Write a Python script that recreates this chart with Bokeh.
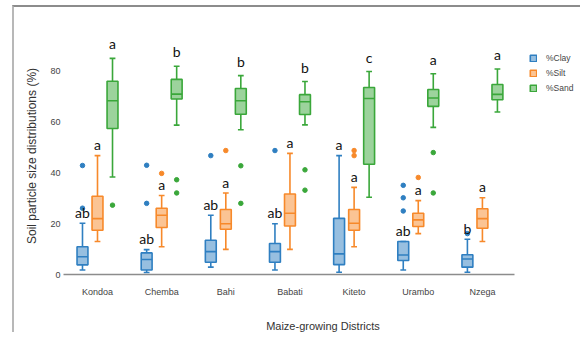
from bokeh.plotting import figure
from bokeh.models import ColumnDataSource, Range1d, FixedTicker, Legend, LegendItem
from bokeh.embed import file_html
from bokeh.resources import INLINE
from bokeh.core.properties import value

districts = ["Kondoa", "Chemba", "Bahi", "Babati", "Kiteto", "Urambo", "Nzega"]
y_ticks = [0, 20, 40, 60, 80]

# %Clay box statistics
clay_lo = [1.8, 0.8, 2.9, 1.8, 0.9, 1.8, 0.9]
clay_q1 = [3.8, 1.8, 4.8, 4.8, 3.9, 5.5, 2.9]
clay_med = [7.0, 5.9, 9.0, 9.0, 8.1, 7.7, 6.1]
clay_q3 = [10.9, 8.5, 13.5, 12.2, 22.1, 13.0, 7.8]
clay_hi = [20.2, 9.8, 23.3, 20.0, 46.8, 13.0, 13.9]
clay_out_district = ["Kondoa", "Kondoa", "Chemba", "Chemba", "Bahi", "Babati", "Urambo", "Urambo", "Urambo", "Nzega"]
clay_out_value = [26.1, 42.9, 28.0, 43.0, 46.8, 48.8, 35.1, 30.2, 25.0, 16.1]
clay_letters = ["ab", "ab", "ab", "ab", "a", "ab", "b"]

# %Silt box statistics
silt_lo = [13.0, 10.9, 9.9, 9.9, 10.9, 16.1, 13.0]
silt_q1 = [17.4, 18.5, 17.8, 19.1, 17.4, 18.9, 18.2]
silt_med = [22.0, 23.3, 20.0, 24.1, 20.2, 21.5, 22.0]
silt_q3 = [30.8, 26.1, 25.6, 31.7, 25.6, 24.1, 25.9]
silt_hi = [46.8, 31.1, 32.1, 47.7, 34.3, 29.1, 30.2]
silt_out_district = ["Chemba", "Bahi", "Kiteto", "Kiteto", "Urambo"]
silt_out_value = [39.8, 48.8, 48.8, 46.8, 38.2]
silt_letters = ["a", "a", "a", "a", "a", "a", "a"]

# %Sand box statistics
sand_lo = [38.4, 58.8, 57.0, 58.9, 30.4, 57.9, 64.0]
sand_q1 = [57.5, 69.1, 63.1, 63.0, 43.4, 66.2, 68.8]
sand_med = [68.4, 71.0, 68.4, 68.0, 69.3, 69.5, 70.9]
sand_q3 = [76.1, 76.8, 73.2, 70.8, 73.6, 72.8, 74.8]
sand_hi = [85.1, 82.0, 78.3, 76.0, 79.9, 79.0, 80.9]
sand_out_district = ["Kondoa", "Chemba", "Chemba", "Bahi", "Bahi", "Babati", "Babati", "Urambo", "Urambo"]
sand_out_value = [27.3, 37.3, 32.1, 42.8, 28.0, 41.2, 33.2, 48.0, 32.1]
sand_letters = ["a", "b", "b", "b", "c", "a", "a"]

series = [
    ("%Clay", -0.234, "#2f7fc1", clay_lo, clay_q1, clay_med, clay_q3, clay_hi,
     clay_out_district, clay_out_value, clay_letters, 11),
    ("%Silt", 0.0, "#f7892a", silt_lo, silt_q1, silt_med, silt_q3, silt_hi,
     silt_out_district, silt_out_value, silt_letters, 11),
    ("%Sand", 0.234, "#3aa73a", sand_lo, sand_q1, sand_med, sand_q3, sand_hi,
     sand_out_district, sand_out_value, sand_letters, 14.5),
]

BOX_W = 0.17
CAP_W = 0.09
W, H = 568, 327
TOP, BOTTOM, LEFT = 30, 58, 49
Y_END = 93.3
PX_PER_UNIT = (H - TOP - BOTTOM) / Y_END

p = figure(width=W, height=H, output_backend="svg", toolbar_location=None,
           x_range=Range1d(-0.53, 7.56), y_range=Range1d(0, Y_END),
           min_border_left=LEFT, min_border_right=0, min_border_top=TOP, min_border_bottom=BOTTOM,
           styles={"margin-left": "12px", "margin-top": "5px",
                   "border-top": "2px solid #8c8c8c", "border-left": "2px solid #b8b8b8"})
p.xgrid.visible = False
p.ygrid.visible = False
p.outline_line_color = None
p.background_fill_color = "white"

legend_items = []
for name, off, color, lo, q1, med, q3, hi, od, ov, letters, gap in series:
    xs = [i + off for i in range(len(districts))]
    src = ColumnDataSource(dict(
        x=xs, xl=[x - BOX_W / 2 for x in xs], xr=[x + BOX_W / 2 for x in xs],
        cl=[x - CAP_W / 2 for x in xs], cr=[x + CAP_W / 2 for x in xs],
        lo=lo, q1=q1, med=med, q3=q3, hi=hi,
        ly=[h + gap / PX_PER_UNIT for h in hi], lab=letters))
    p.segment(x0="x", y0="hi", x1="x", y1="q3", source=src, line_color=color, line_width=1.6)
    p.segment(x0="x", y0="lo", x1="x", y1="q1", source=src, line_color=color, line_width=1.6)
    p.segment(x0="cl", y0="hi", x1="cr", y1="hi", source=src, line_color=color, line_width=1.6)
    p.segment(x0="cl", y0="lo", x1="cr", y1="lo", source=src, line_color=color, line_width=1.6)
    r = p.vbar(x="x", width=BOX_W, top="q3", bottom="q1", source=src,
               fill_color=color, fill_alpha=0.5, line_color=color, line_width=1.6)
    p.segment(x0="xl", y0="med", x1="xr", y1="med", source=src, line_color=color, line_width=1.6)
    osrc = ColumnDataSource(dict(x=[districts.index(d) + off for d in od], y=ov))
    p.scatter(x="x", y="y", source=osrc, size=4.5, fill_color=color, line_color=color)
    p.text(x="x", y="ly", text="lab", source=src, text_align="center", text_baseline="alphabetic",
           text_font=value("Lato"), text_font_size="14px", text_color="#111111")
    legend_items.append(LegendItem(label=name, renderers=[r]))

legend = Legend(items=legend_items, location=(466, 181), glyph_width=8, glyph_height=8,
                label_standoff=9, label_height=9, spacing=5, padding=0, margin=0,
                label_text_font="Liberation Sans", label_text_font_size="8.5px",
                label_text_color="#444444", border_line_color=None, background_fill_alpha=0)
p.add_layout(legend)

xa = p.xaxis[0]
xa.ticker = FixedTicker(ticks=list(range(len(districts))))
xa.major_label_overrides = {i: d for i, d in enumerate(districts)}
xa.bounds = (-0.53, len(districts) - 0.5)
xa.axis_line_color = "#8c8c8c"
xa.axis_line_width = 1.5
xa.major_tick_line_color = None
xa.minor_tick_line_color = None
xa.major_tick_out = 0
xa.major_tick_in = 0
xa.major_label_standoff = 12
xa.major_label_text_font = "Liberation Sans"
xa.major_label_text_font_size = "9px"
xa.major_label_text_color = "#444444"
xa.axis_label = "Maize-growing Districts"
xa.axis_label_text_font = "Liberation Sans"
xa.axis_label_text_font_size = "11px"
xa.axis_label_text_font_style = "normal"
xa.axis_label_text_color = "#333333"
xa.axis_label_standoff = 20

ya = p.yaxis[0]
ya.ticker = FixedTicker(ticks=y_ticks)
ya.axis_line_color = None
ya.major_tick_line_color = None
ya.minor_tick_line_color = None
ya.major_tick_out = 0
ya.major_tick_in = 0
ya.major_label_standoff = 3
ya.major_label_text_font = "Liberation Sans"
ya.major_label_text_font_size = "9px"
ya.major_label_text_color = "#444444"
ya.axis_label = "Soil particle size distributions (%)"
ya.axis_label_text_font = "Liberation Sans"
ya.axis_label_text_font_size = "12px"
ya.axis_label_text_font_style = "normal"
ya.axis_label_text_color = "#333333"
ya.axis_label_standoff = 8

open("out.html", "w").write(file_html(p, INLINE))
